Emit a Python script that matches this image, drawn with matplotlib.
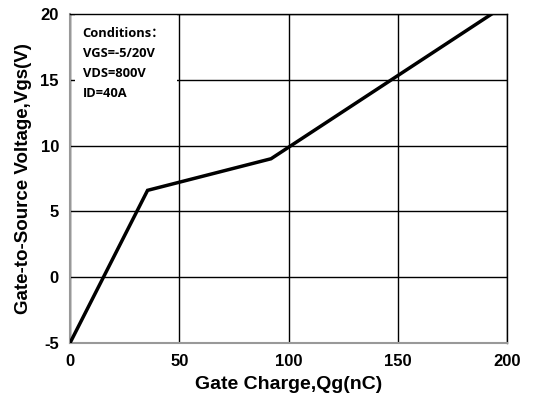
import matplotlib
matplotlib.use("Agg")
import matplotlib.pyplot as plt
from matplotlib.patches import Rectangle

plt.rcParams["axes.unicode_minus"] = False

qg = [0, 35.5, 92, 193]
vgs = [-5, 6.6, 9.0, 20]
xticks = [0, 50, 100, 150, 200]
yticks = [-5, 0, 5, 10, 15, 20]
cond_lines = ["Conditions：", "VGS=-5/20V", "VDS=800V", "ID=40A"]

fig = plt.figure(figsize=(5.37, 4.07), dpi=100)
ax = fig.add_axes([70/537, 64/407, 437/537, 329/407])
ax.set_xlim(0, 200)
ax.set_ylim(-5, 20)
ax.set_xticks(xticks)
ax.set_yticks(yticks)
ax.grid(True, color="black", linewidth=1.0)
ax.set_axisbelow(True)
for s in ["left", "bottom"]:
    ax.spines[s].set_color("#999999")
    ax.spines[s].set_linewidth(1.5)
for s in ["top", "right"]:
    ax.spines[s].set_color("black")
    ax.spines[s].set_linewidth(1.0)
ax.tick_params(length=0, pad=8)
for lab in ax.get_xticklabels() + ax.get_yticklabels():
    lab.set_fontfamily("Liberation Sans")
    lab.set_fontweight("bold")
    lab.set_fontsize(12)

ax.add_patch(Rectangle((2.5, 10.6), 46.5, 9.3, facecolor="white", edgecolor="none", zorder=2))
for i, t in enumerate(cond_lines):
    ax.text(5.8, 18.55 - i * 1.52, t, fontsize=9.3, fontweight="bold",
            family=["Open Sans", "Noto Sans CJK SC", "DejaVu Sans"], va="center", ha="left", zorder=3)

ax.plot(qg, vgs, color="black", linewidth=2.5, zorder=4, solid_joinstyle="miter")

ax.set_xlabel("Gate Charge,Qg(nC)", fontfamily="Liberation Sans", fontweight="bold", fontsize=14, labelpad=5)
ax.set_ylabel("Gate-to-Source Voltage,Vgs(V)", fontfamily="Liberation Sans", fontweight="bold", fontsize=13.5, labelpad=6)

fig.savefig("out.png", dpi=100)
